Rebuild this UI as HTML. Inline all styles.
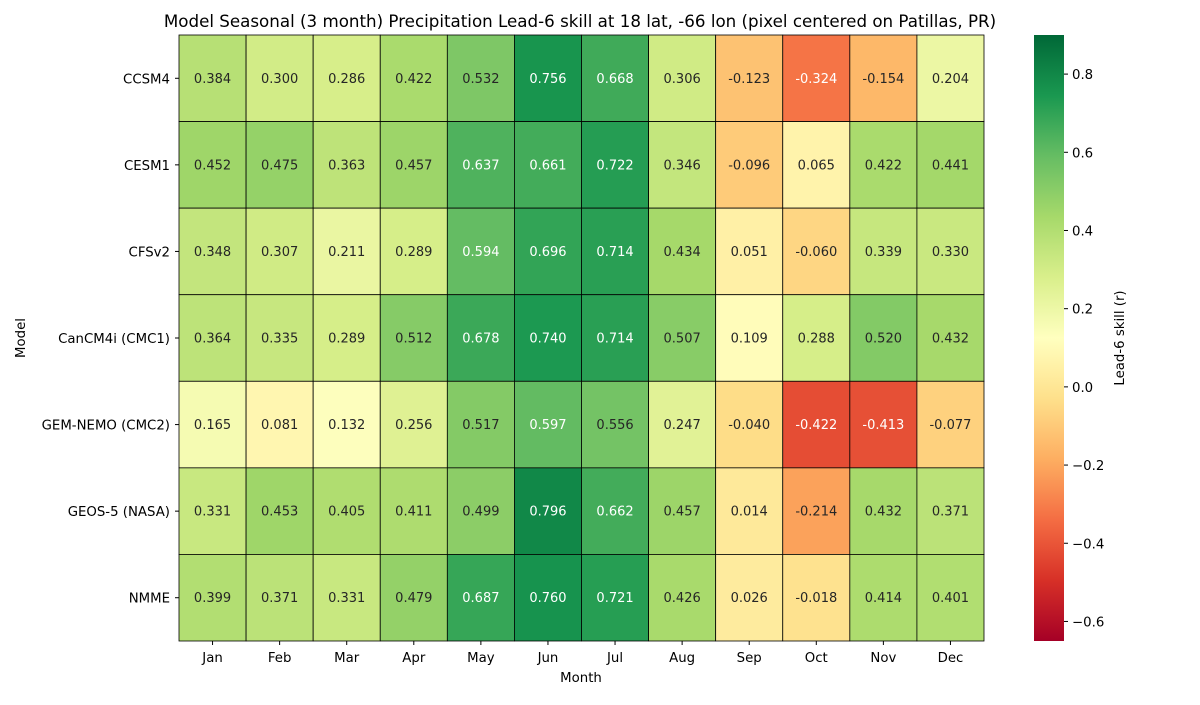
<!DOCTYPE html>
<html><head><meta charset="utf-8"><style>
body{margin:0;background:#fff;font-family:"Liberation Sans","DejaVu Sans",sans-serif;}
svg text{font-family:"DejaVu Sans","Liberation Sans",sans-serif;}
</style></head><body>
<svg id="chart" width="1200" height="700" xmlns="http://www.w3.org/2000/svg">
<defs><linearGradient id="cbg" x1="0" y1="1" x2="0" y2="0"></linearGradient></defs>
<text x="580" y="27" font-size="16.7" text-anchor="middle">Model Seasonal (3 month) Precipitation Lead-6 skill at 18 lat, -66 lon (pixel centered on Patillas, PR)</text>
<g id="cells"></g><g id="xt"></g><g id="yt"></g><g id="cb"></g>
<text x="581" y="682" font-size="13.3" text-anchor="middle">Month</text>
<text transform="translate(25,338) rotate(-90)" font-size="13.3" text-anchor="middle">Model</text>
<text transform="translate(1124,338) rotate(-90)" font-size="13.3" text-anchor="middle">Lead-6 skill (r)</text>
</svg>
<script>
const months=["Jan","Feb","Mar","Apr","May","Jun","Jul","Aug","Sep","Oct","Nov","Dec"];
const models=["CCSM4","CESM1","CFSv2","CanCM4i (CMC1)","GEM-NEMO (CMC2)","GEOS-5 (NASA)","NMME"];
const ccsm4=[0.384,0.300,0.286,0.422,0.532,0.756,0.668,0.306,-0.123,-0.324,-0.154,0.204];
const cesm1=[0.452,0.475,0.363,0.457,0.637,0.661,0.722,0.346,-0.096,0.065,0.422,0.441];
const cfsv2=[0.348,0.307,0.211,0.289,0.594,0.696,0.714,0.434,0.051,-0.060,0.339,0.330];
const cmc1=[0.364,0.335,0.289,0.512,0.678,0.740,0.714,0.507,0.109,0.288,0.520,0.432];
const cmc2=[0.165,0.081,0.132,0.256,0.517,0.597,0.556,0.247,-0.040,-0.422,-0.413,-0.077];
const geos5=[0.331,0.453,0.405,0.411,0.499,0.796,0.662,0.457,0.014,-0.214,0.432,0.371];
const nmme=[0.399,0.371,0.331,0.479,0.687,0.760,0.721,0.426,0.026,-0.018,0.414,0.401];
const cbTicks=[-0.6,-0.4,-0.2,0.0,0.2,0.4,0.6,0.8];
const vmin=-0.65,vmax=0.9;
const rows=[ccsm4,cesm1,cfsv2,cmc1,cmc2,geos5,nmme];
const X0=179,X1=984,Y0=35,Y1=641;
const cw=(X1-X0)/months.length,ch=(Y1-Y0)/models.length;
const stops=["#a50026","#d73027","#f46d43","#fdae61","#fee08b","#ffffbf","#d9ef8b","#a6d96a","#66bd63","#1a9850","#006837"].map(h=>[1,3,5].map(i=>parseInt(h.substr(i,2),16)));
function cmap(v){let t=Math.max(0,Math.min(1,(v-vmin)/(vmax-vmin)))*10;let i=Math.min(9,Math.floor(t)),f=t-i;return stops[i].map((c,k)=>Math.round(c+(stops[i+1][k]-c)*f));}
function lum(c){const l=c.map(x=>{x/=255;return x<=0.03928?x/12.92:Math.pow((x+0.055)/1.055,2.4)});return 0.2126*l[0]+0.7152*l[1]+0.0722*l[2];}
const NS="http://www.w3.org/2000/svg";
function mk(t,a,p){const e=document.createElementNS(NS,t);for(const k in a)e.setAttribute(k,a[k]);p.appendChild(e);return e;}
const cells=document.getElementById('cells');
rows.forEach((r,j)=>r.forEach((v,i)=>{
 const c=cmap(v);
 const rc=mk('rect',{x:X0+i*cw,y:Y0+j*ch,width:cw,height:ch,fill:`rgb(${c})`,stroke:'#000','stroke-width':0.8},cells);
 
 
 const t=mk('text',{x:X0+(i+.5)*cw,y:Y0+(j+.5)*ch+4.5,'font-size':13,'text-anchor':'middle',fill:lum(c)>0.408?'#262626':'#fff'},cells);
 t.textContent=v.toFixed(3);
 
 
}));
const xt=document.getElementById('xt');
months.forEach((m,i)=>{const x=X0+(i+.5)*cw;mk('line',{x1:x,x2:x,y1:Y1,y2:Y1+4,stroke:'#000'},xt);
 const t=mk('text',{x:x,y:Y1+21,'font-size':13.3,'text-anchor':'middle'},xt);t.textContent=m;
 
 });
const yt=document.getElementById('yt');
models.forEach((m,j)=>{const y=Y0+(j+.5)*ch;mk('line',{x1:X0-4,x2:X0,y1:y,y2:y,stroke:'#000'},yt);
 const t=mk('text',{x:X0-9,y:y+5,'font-size':13.3,'text-anchor':'end'},yt);t.textContent=m;
 
 });
const g=document.getElementById('cbg');
for(let k=0;k<=20;k++){const v=vmin+(vmax-vmin)*k/20;mk('stop',{offset:k/20,'stop-color':`rgb(${cmap(v)})`},g);}
const cb=document.getElementById('cb');
const CX=1034,CW=30;
const cr=mk('rect',{x:CX,y:Y0,width:CW,height:Y1-Y0,fill:'url(#cbg)'},cb);


const cy=v=>Y1-(v-vmin)/(vmax-vmin)*(Y1-Y0);
cbTicks.forEach(v=>{const y=cy(v);mk('line',{x1:CX+CW,x2:CX+CW+4,y1:y,y2:y,stroke:'#000'},cb);
 const t=mk('text',{x:CX+CW+8,y:y+5,'font-size':13.3},cb);t.textContent=(v<0?'\u2212':'')+Math.abs(v).toFixed(1);
 
 });
</script>
</body></html>
